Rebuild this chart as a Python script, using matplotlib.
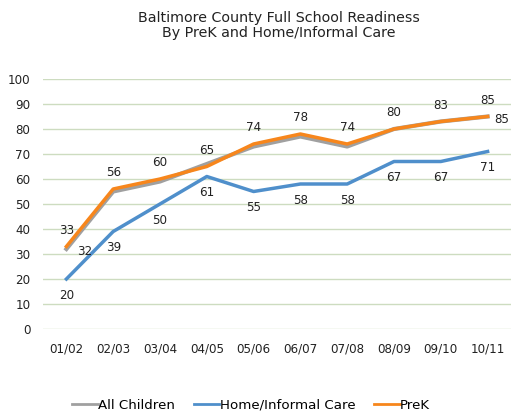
import numpy as np
import matplotlib
matplotlib.use('Agg')
import matplotlib.pyplot as plt

years = ['01/02', '02/03', '03/04', '04/05', '05/06', '06/07', '07/08', '08/09', '09/10', '10/11']
all_children = [32, 55, 59, 66, 73, 77, 73, 80, 83, 85]
home_care = [20, 39, 50, 61, 55, 58, 58, 67, 67, 71]
prek = [33, 56, 60, 65, 74, 78, 74, 80, 83, 85]

C_ALL = '#a0a0a0'
C_HOME = '#4f8fcb'
C_PREK = '#f7861c'
TXT = '#222222'

plt.rcParams['font.family'] = ['DejaVu Sans']

fig = plt.figure(figsize=(5.12, 4.12), dpi=100)
ax = fig.add_axes([43/512, 1 - 329/412, 468/512, 250/412])

x = np.arange(len(years))
ax.plot(x, all_children, color=C_ALL, lw=3, label='All Children')
ax.plot(x, home_care, color=C_HOME, lw=2.5, label='Home/Informal Care')
ax.plot(x, prek, color=C_PREK, lw=2.5, label='PreK')

fs = 8.6
for i, v in enumerate(prek):
    ax.annotate(str(v), (x[i], v), xytext=(0, 7), textcoords='offset points',
                ha='center', va='bottom', fontsize=fs, color=TXT)
for i, v in enumerate(home_care):
    ax.annotate(str(v), (x[i], v), xytext=(0, -7), textcoords='offset points',
                ha='center', va='top', fontsize=fs, color=TXT)
for i, dx in [(0, 8), (len(years) - 1, 5)]:
    ax.annotate(str(all_children[i]), (x[i], all_children[i]), xytext=(dx, -2),
                textcoords='offset points', ha='left', va='center', fontsize=fs, color=TXT)

ax.set_xlim(-0.5, len(years) - 0.5)
ax.set_ylim(0, 100)
ax.set_yticks(range(0, 101, 10))
ax.set_xticks(x)
ax.set_xticklabels(years)
ax.yaxis.grid(True, color='#cddcc0', lw=1)
ax.set_axisbelow(True)
for s in ax.spines.values():
    s.set_visible(False)
ax.tick_params(length=0, labelsize=fs, colors=TXT)
ax.tick_params(axis='x', pad=10)
ax.tick_params(axis='y', pad=9)

fig.text(0.545, 0.938, 'Baltimore County Full School Readiness\nBy PreK and Home/Informal Care',
         ha='center', va='center', fontsize=10.3, color=TXT, linespacing=1.15)

leg = ax.legend(loc='center', bbox_to_anchor=(0.445, -0.305), ncol=3, frameon=False,
                fontsize=9.6, handlelength=1.9, handletextpad=0.05, columnspacing=1.4)
for h in leg.get_lines():
    h.set_linewidth(2)

fig.savefig('out.png', dpi=100)
